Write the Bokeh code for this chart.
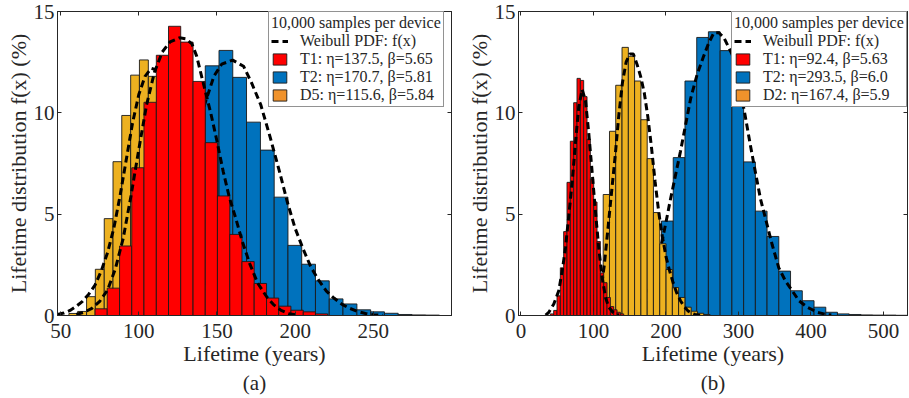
from bokeh.plotting import figure
from bokeh.models import (ColumnDataSource, Legend, LegendItem, Range1d, LinearAxis,
                          FixedTicker, Title, CustomJSTickFormatter)
from bokeh.layouts import row
from bokeh.embed import file_html
from bokeh.resources import INLINE

FONT = "Liberation Serif"
INK = "#262626"
RED, BLUE, YELLOW = "#FF0000", "#0072BD", "#EDB120"
SWATCH_D = "#F0922B"

y_ticks = [0, 5, 10, 15]
legend_title = "10,000 samples per device"
pdf_label = "Weibull PDF: f(x)"

# ---------------- panel (a) ----------------
a_xticks = [50, 100, 150, 200, 250]
a_labels = ["T1: η=137.5, β=5.65", "T2: η=170.7, β=5.81", "D5: η=115.6, β=5.84"]

a_t1_edges = [72.0, 79.8, 87.7, 95.5, 103.3, 111.2, 119.0, 126.8, 134.7, 142.5, 150.3,
              158.2, 166.0, 173.8, 181.7, 189.5, 197.3, 205.2, 213.0, 220.8]
a_t1_pct = [0.33, 1.35, 3.43, 7.29, 10.52, 12.84, 14.27, 13.49, 11.55, 8.53, 5.90, 4.00,
            2.66, 1.58, 0.86, 0.46, 0.26, 0.18, 0.08]

a_t2_edges = [71.9, 80.8, 89.6, 98.4, 107.2, 116.0, 124.9, 133.7, 142.5, 151.3, 160.1,
              168.9, 177.8, 186.6, 195.4, 204.2, 213.0, 221.8, 230.6, 239.5, 248.3,
              257.1, 265.9, 274.7, 283.5, 292.3]
a_t2_pct = [0.15, 0.45, 1.0, 2.0, 3.4, 5.3, 7.6, 10.0, 12.32, 13.08, 11.75, 9.54, 8.16,
            5.84, 3.46, 2.53, 1.71, 0.82, 0.57, 0.28, 0.18, 0.11, 0.05, 0.03, 0.02]

a_d5_edges = [55.3, 60.9, 66.6, 72.2, 77.9, 83.5, 89.1, 94.8, 100.4, 106.1, 111.7, 117.3,
              123.0, 128.6, 134.3, 139.9, 145.5, 151.2, 156.8, 162.4, 168.1]
a_d5_pct = [0.10, 0.20, 0.93, 2.28, 4.78, 7.59, 9.87, 11.86, 12.61, 11.80, 10.8, 8.9,
            6.6, 4.5, 2.8, 1.6, 0.8, 0.4, 0.15, 0.05]

a_t1_fx = [60, 65, 70, 75, 80, 85, 90, 95, 100, 105, 110, 115, 120, 126, 130, 134, 137,
           140.5, 146, 150, 154, 158, 162, 166, 171, 176, 182, 186, 191, 196, 201]
a_t1_fy = [0.05, 0.16, 0.35, 0.70, 1.25, 2.3, 3.8, 5.9, 8.2, 10.4, 12.0, 13.0, 13.5, 13.7,
           13.65, 13.4, 12.8, 11.7, 10.0, 8.6, 7.1, 5.8, 4.8, 3.7, 2.55, 1.6, 0.9, 0.55,
           0.25, 0.09, 0.02]
a_t2_fx = [75, 85, 95, 105, 115, 125, 133, 138, 142.5, 148, 153, 160, 167, 172, 178, 184,
           190, 195, 200, 205, 210, 215, 220, 225, 230, 235, 240, 245, 250, 256]
a_t2_fy = [0.08, 0.3, 0.85, 1.9, 3.6, 5.9, 8.0, 9.4, 10.5, 11.8, 12.4, 12.6, 12.3, 11.5,
           10.4, 8.8, 7.1, 5.6, 4.3, 3.3, 2.4, 1.75, 1.2, 0.85, 0.55, 0.35, 0.2, 0.1,
           0.04, 0.01]
a_d5_fx = [48, 52, 56, 60, 64, 68, 72, 76, 80, 84, 88, 92, 96, 100, 104, 108, 112, 116,
           120, 125, 130, 135, 140, 145, 150, 155, 160, 166]
a_d5_fy = [0.05, 0.12, 0.25, 0.45, 0.7, 1.05, 1.5, 2.2, 3.1, 4.3, 5.9, 7.7, 9.5, 10.9,
           11.8, 12.2, 12.1, 11.3, 10.0, 7.9, 5.7, 3.6, 2.0, 1.0, 0.4, 0.15, 0.05, 0.01]

# ---------------- panel (b) ----------------
b_xticks = [0, 100, 200, 300, 400, 500]
b_labels = ["T1: η=92.4, β=5.63", "T2: η=293.5, β=6.0", "D2: η=167.4, β=5.9"]

b_t1_edges = [40.5, 45.1, 49.7, 54.3, 58.9, 63.5, 68.1, 72.7, 77.3, 81.9, 86.5, 91.1,
              95.7, 100.3, 104.9, 109.5, 114.1, 118.7, 123.3, 127.9, 132.5, 137.1, 141.7]
b_t1_pct = [0.08, 0.25, 0.97, 2.35, 4.14, 6.57, 8.6, 10.5, 11.7, 11.6, 10.8, 8.7, 6.74,
            5.6, 3.65, 2.1, 1.62, 0.89, 0.44, 0.28, 0.16, 0.08]

b_t2_edges = [129.1, 145.3, 161.4, 177.6, 193.8, 210.0, 226.2, 242.4, 258.5, 274.7,
              290.9, 307.1, 323.3, 339.4, 355.6, 371.8, 388.0, 404.2, 420.4, 436.5,
              452.7, 468.9, 485.1, 501.3, 517.4, 533.6]
b_t2_pct = [0.08, 0.25, 0.7, 1.6, 4.66, 7.79, 11.57, 13.72, 14.0, 13.07, 10.9, 7.58,
            5.15, 3.9, 2.19, 1.22, 0.73, 0.41, 0.16, 0.08, 0.05, 0.03, 0.02, 0.02, 0.01]

b_d2_edges = [87.4, 96.1, 104.7, 113.4, 122.1, 130.7, 139.4, 148.1, 156.7, 165.4, 174.1,
              182.7, 191.4, 200.1, 208.8, 217.4, 226.1, 234.8, 243.4, 252.1, 260.8]
b_d2_pct = [0.3, 1.0, 2.0, 5.97, 9.09, 11.36, 13.23, 12.79, 11.57, 9.66, 7.74, 5.08,
            3.54, 2.27, 1.38, 0.89, 0.41, 0.21, 0.11, 0.05]

b_t1_fx = [34, 38.4, 45.3, 52.1, 56.8, 61.4, 66.0, 70.6, 75.2, 79.7, 84.4, 89.0, 93.5,
           98.2, 102.8, 107.3, 112.0, 116.6, 121.1, 128.0, 135.0]
b_t1_fy = [0.02, 0.16, 0.57, 1.22, 2.19, 3.33, 4.95, 6.57, 8.52, 10.3, 11.15, 10.6, 9.0,
           7.06, 5.1, 3.33, 1.87, 0.89, 0.41, 0.11, 0.02]
b_d2_fx = [95, 100, 105, 110, 115, 120, 125, 130, 135, 140, 145, 150, 155, 160, 165, 170,
           175, 180, 185, 190, 195, 200, 205, 210, 215, 220, 225, 230, 235, 240, 248]
b_d2_fy = [0.1, 0.3, 0.65, 1.2, 2.5, 4.3, 6.1, 7.9, 9.9, 11.5, 12.5, 12.9, 12.9, 12.4,
           11.8, 11.0, 9.8, 8.3, 6.6, 5.1, 3.9, 2.9, 2.2, 1.6, 1.1, 0.73, 0.45, 0.24,
           0.12, 0.05, 0.01]
b_t2_fx = [135, 145, 155, 165, 175, 185, 193, 200, 206, 213, 220, 227, 234, 243, 252, 259,
           266, 273, 280, 291, 300, 309, 316.6, 323.4, 330.3, 339.6, 346.5, 355.6, 364.8,
           374.1, 383.3, 394.8, 408.6, 417.7, 428]
b_t2_fy = [0.05, 0.15, 0.35, 0.7, 1.3, 2.3, 3.4, 4.6, 5.7, 6.9, 8.1, 9.4, 10.7, 11.9,
           12.8, 13.45, 13.95, 13.95, 13.7, 12.9, 11.6, 9.9, 8.36, 7.06, 5.76, 4.46, 3.49,
           2.35, 1.7, 1.22, 0.73, 0.41, 0.16, 0.08, 0.02]

FRAME_H = 304
TOP_B = 11
BOTTOM_B = 82


def hist_source(edges, pct):
    return ColumnDataSource(dict(left=edges[:-1], right=edges[1:], top=pct,
                                 bottom=[0] * len(pct)))


def hist(p, src, color, **kw):
    return p.quad(left="left", right="right", top="top", bottom="bottom", source=src,
                  fill_color=color, line_color="#1a1a1a", line_width=0.9, **kw)


def curve(p, xs, ys):
    src = ColumnDataSource(dict(x=xs, y=ys))
    return p.line("x", "y", source=src, line_color="black", line_width=3,
                  line_dash="7 4")


def make_panel(xr, xticks, frame_w, bl, br, series, labels, legend_xy, tag):
    p = figure(frame_width=frame_w, frame_height=FRAME_H,
               x_range=Range1d(*xr), y_range=Range1d(0, 15),
               min_border_left=bl, min_border_right=br, min_border_top=TOP_B,
               min_border_bottom=BOTTOM_B, output_backend="svg", toolbar_location=None,
               background_fill_color="white", border_fill_color="white")
    p.grid.visible = False
    p.outline_line_color = INK
    p.outline_line_width = 1

    p.xaxis.ticker = FixedTicker(ticks=xticks)
    p.yaxis.ticker = FixedTicker(ticks=y_ticks)
    p.xaxis.axis_label = "Lifetime (years)"
    p.yaxis.axis_label = "Lifetime distribution f(x) (%)"
    p.axis.major_tick_in = 4
    p.axis.major_tick_out = 0
    p.axis.minor_tick_line_color = None
    p.axis.axis_line_color = INK
    p.axis.major_tick_line_color = INK
    p.axis.major_label_text_font = FONT
    p.axis.major_label_text_font_size = "21px"
    p.axis.major_label_text_color = INK
    p.axis.axis_label_text_font = FONT
    p.axis.axis_label_text_font_size = "22px"
    p.axis.axis_label_text_font_style = "normal"
    p.axis.axis_label_text_color = INK
    p.xaxis.major_label_standoff = 8
    p.yaxis.major_label_standoff = 3
    p.axis.axis_label_standoff = 0

    blank = CustomJSTickFormatter(code="return ''")
    top = LinearAxis(ticker=FixedTicker(ticks=xticks), formatter=blank,
                     major_tick_in=4, major_tick_out=0, minor_tick_line_color=None,
                     major_label_standoff=0, major_label_text_font_size="1px",
                     axis_line_color=INK, major_tick_line_color=INK)
    right = LinearAxis(ticker=FixedTicker(ticks=y_ticks), formatter=blank,
                       major_tick_in=4, major_tick_out=0, minor_tick_line_color=None,
                       major_label_standoff=0, major_label_text_font_size="1px",
                       axis_line_color=INK, major_tick_line_color=INK)
    p.add_layout(top, "above")
    p.add_layout(right, "right")

    (t1e, t1p, t1x, t1y), (t2e, t2p, t2x, t2y), (de, dp, dx, dy) = series
    src_t1, src_t2, src_d = hist_source(t1e, t1p), hist_source(t2e, t2p), hist_source(de, dp)
    r_t2 = hist(p, src_t2, BLUE)
    curve(p, t2x, t2y)
    hist(p, src_d, YELLOW)
    curve(p, dx, dy)
    r_t1 = hist(p, src_t1, RED)
    pdf = curve(p, t1x, t1y)
    # legend proxy: the D histogram shown with the orange legend swatch (not drawn)
    r_d_legend = hist(p, src_d, SWATCH_D, visible=False)

    items = [LegendItem(label=pdf_label, renderers=[pdf]),
             LegendItem(label=labels[0], renderers=[r_t1]),
             LegendItem(label=labels[1], renderers=[r_t2]),
             LegendItem(label=labels[2], renderers=[r_d_legend])]
    legend = Legend(items=items, location=legend_xy, title=legend_title,
                    title_text_font=FONT, title_text_font_size="16px",
                    title_text_font_style="normal", title_text_color=INK,
                    label_text_font=FONT, label_text_font_size="16px",
                    label_text_color=INK, glyph_width=17, glyph_height=14,
                    label_height=14, label_standoff=12, spacing=0, padding=2,
                    margin=0, title_standoff=0, border_line_color=INK,
                    border_line_width=1, background_fill_color="white",
                    background_fill_alpha=1, inactive_fill_alpha=0)
    p.add_layout(legend)

    p.add_layout(Title(text=tag, align="center", text_font=FONT, text_font_size="21px",
                       text_font_style="normal", text_color=INK, standoff=0), "below")
    return p


pa = make_panel((48, 300), a_xticks, 394, 57, 4,
                [(a_t1_edges, a_t1_pct, a_t1_fx, a_t1_fy),
                 (a_t2_edges, a_t2_pct, a_t2_fx, a_t2_fy),
                 (a_d5_edges, a_d5_pct, a_d5_fx, a_d5_fy)],
                a_labels, (211, 208), "(a)")
pb = make_panel((-3.4, 533.1), b_xticks, 389, 63, 1,
                [(b_t1_edges, b_t1_pct, b_t1_fx, b_t1_fy),
                 (b_t2_edges, b_t2_pct, b_t2_fx, b_t2_fy),
                 (b_d2_edges, b_d2_pct, b_d2_fx, b_d2_fy)],
                b_labels, (213, 208), "(b)")

layout = row(pa, pb)
open("out.html", "w").write(file_html(layout, INLINE))
